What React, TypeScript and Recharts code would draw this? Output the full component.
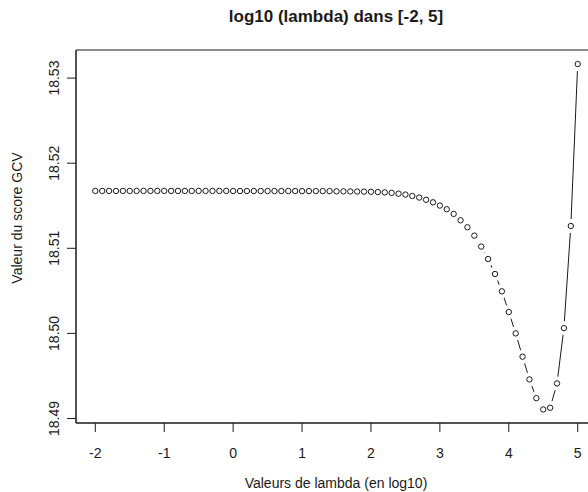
import React from 'react';
import { LineChart, Line, XAxis, YAxis, ReferenceArea } from 'recharts';

// log10(lambda) grid, step 0.1
const lambdaLog = [
  -2, -1.9, -1.8, -1.7, -1.6, -1.5, -1.4, -1.3, -1.2, -1.1,
  -1, -0.9, -0.8, -0.7, -0.6, -0.5, -0.4, -0.3, -0.2, -0.1,
  0, 0.1, 0.2, 0.3, 0.4, 0.5, 0.6, 0.7, 0.8, 0.9,
  1, 1.1, 1.2, 1.3, 1.4, 1.5, 1.6, 1.7, 1.8, 1.9,
  2, 2.1, 2.2, 2.3, 2.4, 2.5, 2.6, 2.7, 2.8, 2.9,
  3, 3.1, 3.2, 3.3, 3.4, 3.5, 3.6, 3.7, 3.8, 3.9,
  4, 4.1, 4.2, 4.3, 4.4, 4.5, 4.6, 4.7, 4.8, 4.9,
  5
];

// GCV score for each lambda
const gcvScore = [
  18.51674, 18.51674, 18.51674, 18.51674, 18.51674, 18.51674, 18.51674, 18.51674, 18.51674, 18.51674,
  18.51674, 18.51674, 18.51674, 18.51674, 18.51674, 18.51674, 18.51674, 18.51674, 18.51674, 18.51674,
  18.51673, 18.51673, 18.51673, 18.51673, 18.51673, 18.51673, 18.51673, 18.51673, 18.51673, 18.51673,
  18.51672, 18.51672, 18.51672, 18.51672, 18.51672, 18.51669, 18.51669, 18.51668, 18.51667, 18.51666,
  18.51664, 18.51661, 18.51657, 18.51651, 18.51642, 18.51631, 18.51615, 18.51596, 18.5157, 18.5154,
  18.51502, 18.51459, 18.51404, 18.51329, 18.51247, 18.51149, 18.5102, 18.50874, 18.50698, 18.50494,
  18.50251, 18.5, 18.49726, 18.49459, 18.49239, 18.49106, 18.49126, 18.49412, 18.50062, 18.51262,
  18.53165
];

const xTicks = [-2, -1, 0, 1, 2, 3, 4, 5];
const yTicks = [18.49, 18.5, 18.51, 18.52, 18.53];

const data = lambdaLog.map((x, i) => ({ x, y: gcvScore[i] }));

const FONT = '"Liberation Sans", Arial, sans-serif';
const INK = '#1a1a1a';

// R-style 4% padding around the data range
const X_DOMAIN = [-2.28, 5.28];
const Y_DOMAIN = [18.48947, 18.5333];

const YTick = (props: any) => {
  const { x, y, payload } = props;
  return (
    <text
      x={x - 6}
      y={y}
      transform={`rotate(-90, ${x - 6}, ${y})`}
      textAnchor="middle"
      fontFamily={FONT}
      fontSize={14}
      fill={INK}
    >
      {payload.value.toFixed(2)}
    </text>
  );
};

const XTick = (props: any) => {
  const { x, y, payload } = props;
  return (
    <text x={x} y={y + 24} textAnchor="middle" fontFamily={FONT} fontSize={14} fill={INK}>
      {payload.value}
    </text>
  );
};

// white halo behind each point so the connecting line stops short of it
const Halo = (props: any) => (
  <circle key={`h-${props.index}`} cx={props.cx} cy={props.cy} r={7} fill="#fff" />
);

const Ring = (props: any) => (
  <circle
    key={`r-${props.index}`}
    cx={props.cx}
    cy={props.cy}
    r={2.7}
    fill="none"
    stroke={INK}
    strokeWidth={1}
  />
);

export default function App() {
  return (
    <div
      style={{
        position: 'absolute',
        left: 0,
        top: 0,
        width: 588,
        height: 492,
        overflow: 'hidden',
        background: '#fff'
      }}
    >
      <LineChart
        width={620}
        height={492}
        data={data}
        margin={{ top: 50, right: 23, bottom: 39, left: 0 }}
      >
        <XAxis
          dataKey="x"
          type="number"
          domain={X_DOMAIN}
          ticks={xTicks}
          allowDataOverflow
          height={30}
          tickSize={9}
          stroke={INK}
          tick={<XTick />}
        />
        <YAxis
          type="number"
          domain={Y_DOMAIN}
          ticks={yTicks}
          allowDataOverflow
          width={76}
          tickSize={9}
          stroke={INK}
          tick={<YTick />}
        />
        <ReferenceArea
          x1={X_DOMAIN[0]}
          x2={X_DOMAIN[1]}
          y1={Y_DOMAIN[0]}
          y2={Y_DOMAIN[1]}
          fill="none"
          stroke={INK}
          strokeWidth={1}
          fillOpacity={0}
        />
        <Line
          dataKey="y"
          stroke={INK}
          strokeWidth={1}
          dot={Halo}
          activeDot={false}
          isAnimationActive={false}
        />
        <Line
          dataKey="y"
          stroke="none"
          dot={Ring}
          activeDot={false}
          isAnimationActive={false}
        />
      </LineChart>
      <svg
        width={588}
        height={492}
        style={{ position: 'absolute', left: 0, top: 0, pointerEvents: 'none' }}
      >
        <text x={336} y={22} textAnchor="middle" fontFamily={FONT} fontSize={17} fontWeight="bold" fill={INK}>
          log10 (lambda) dans [-2, 5]
        </text>
        <text x={336} y={488} textAnchor="middle" fontFamily={FONT} fontSize={14} fill={INK}>
          Valeurs de lambda (en log10)
        </text>
        <text
          x={22}
          y={218}
          transform="rotate(-90, 22, 218)"
          textAnchor="middle"
          fontFamily={FONT}
          fontSize={14}
          fill={INK}
        >
          Valeur du score GCV
        </text>
      </svg>
    </div>
  );
}
